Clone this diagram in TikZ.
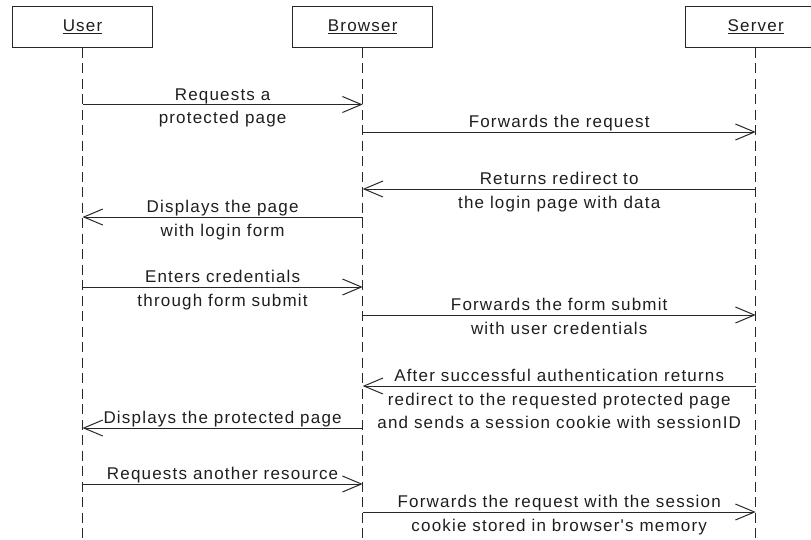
\documentclass[tikz,border=0pt]{standalone}
\usepackage{fontspec}
\setmainfont{Liberation Sans}[LetterSpace=7, Ligatures=TeXOff]
\usetikzlibrary{arrows.meta,calc}
\definecolor{ink}{RGB}{30,30,30}
\definecolor{wire}{RGB}{40,40,40}

\tikzset{
  lane/.style={draw=wire, line width=1pt, fill=white, minimum width=140pt,
    minimum height=41pt, inner sep=0pt, text=ink},
  lifeline/.style={draw=wire, line width=1pt, dash pattern=on 10pt off 5.5pt},
  msg/.style={draw=wire, line width=1pt,
    -{Straight Barb[length=19pt,width=16pt,line width=1pt]}},
  % base anchor sits on the last line of the label
  msglabel/.style={anchor=base, align=center, inner sep=0pt, text=ink,
    font=\fontsize{17}{23.5}\selectfont},
}

\begin{document}
\begin{tikzpicture}[x=1pt, y=-1pt]
  \useasboundingbox (0,0) rectangle (811,539);
  \clip (0,0) rectangle (811,539);

  % participants
  \node[lane] (user)    at (82.5,26.5)  {\fontsize{17}{20}\selectfont\underline{User}};
  \node[lane] (browser) at (362.7,26.5) {\fontsize{17}{20}\selectfont\underline{Browser}};
  \node[lane] (server)  at (755.7,26.5) {\fontsize{17}{20}\selectfont\underline{Server}};

  % lifelines run past the lower edge
  \coordinate (uend) at (82.5,545);
  \coordinate (bend) at (362.7,545);
  \coordinate (send) at (755.7,545);
  \draw[lifeline] (user.south) -- (uend);
  \draw[lifeline] (browser.south) -- (bend);
  \draw[lifeline] (server.south) -- (send);

  % message anchors on each lifeline
  \foreach \n/\y in {1/104.5,2/132,3/189,4/217,5/287,6/315,7/386,8/428,9/484,10/512}{
    \coordinate (u\n) at (82.5,\y);
    \coordinate (b\n) at (362.7,\y);
    \coordinate (s\n) at (755.7,\y);
  }

  % messages (one line: -4.5, two lines: +19, three lines: +42.5)
  \draw[msg] (u1) -- (b1);
  \node[msglabel] (l1) at ($(u1)!0.5!(b1)+(0,19)$) {Requests a\\protected page};

  \draw[msg] (b2) -- (s2);
  \node[msglabel] (l2) at ($(b2)!0.5!(s2)+(0,-4.5)$) {Forwards the request};

  \draw[msg] (s3) -- (b3);
  \node[msglabel] (l3) at ($(b3)!0.5!(s3)+(0,19)$) {Returns redirect to\\the login page with data};

  \draw[msg] (b4) -- (u4);
  \node[msglabel] (l4) at ($(u4)!0.5!(b4)+(0,19)$) {Displays the page\\with login form};

  \draw[msg] (u5) -- (b5);
  \node[msglabel] (l5) at ($(u5)!0.5!(b5)+(0,19)$) {Enters credentials\\through form submit};

  \draw[msg] (b6) -- (s6);
  \node[msglabel] (l6) at ($(b6)!0.5!(s6)+(0,19)$) {Forwards the form submit\\with user credentials};

  \draw[msg] (s7) -- (b7);
  \node[msglabel] (l7) at ($(b7)!0.5!(s7)+(0,42.5)$) {After successful authentication returns\\redirect to the requested protected page\\and sends a session cookie with sessionID};

  \draw[msg] (b8) -- (u8);
  \node[msglabel] (l8) at ($(u8)!0.5!(b8)+(0,-4.5)$) {Displays the protected page};

  \draw[msg] (u9) -- (b9);
  \node[msglabel] (l9) at ($(u9)!0.5!(b9)+(0,-4.5)$) {Requests another resource};

  \draw[msg] (b10) -- (s10);
  \node[msglabel] (l10) at ($(b10)!0.5!(s10)+(0,19)$) {Forwards the request with the session\\cookie stored in browser's memory};
\end{tikzpicture}
\end{document}
